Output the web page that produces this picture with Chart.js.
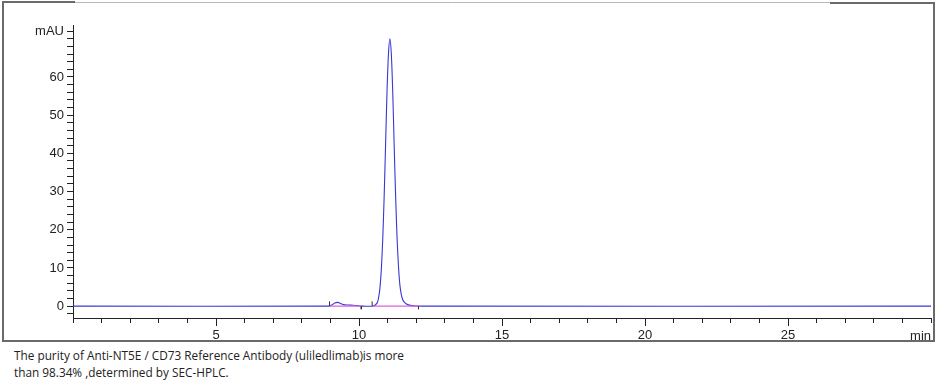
<!DOCTYPE html>
<html><head><meta charset="utf-8">
<script src="https://cdn.jsdelivr.net/npm/chart.js@4"></script>
<style>
html,body{margin:0;padding:0;background:#fff;}
#wrap{position:relative;width:936px;height:390px;overflow:hidden;}
#c{position:absolute;left:0;top:0;}
#cap{position:absolute;left:14px;top:347px;font-family:"Open Sans",sans-serif;font-size:11.8px;line-height:17px;color:#222;white-space:nowrap;}
</style></head><body>
<div id="wrap">
<canvas id="c" width="936" height="345"></canvas>
<div id="cap">The purity of Anti-NT5E / CD73 Reference Antibody (uliledlimab)is more<br>than 98.34% ,determined by SEC-HPLC.</div>
</div>
<script>
// Chromatogram trace (time in min, absorbance in mAU)
const times = [0, 8.95, 9.05, 9.15, 9.25, 9.35, 9.45, 9.6, 9.8, 9.95, 10.05, 10.15, 10.5,
  10.63, 10.68, 10.73, 10.78, 10.83, 10.88, 10.93, 10.98, 11.03, 11.08,
  11.13, 11.18, 11.23, 11.28, 11.33, 11.38, 11.43, 11.48, 11.53, 11.6, 11.7, 11.85, 12.05, 12.3, 30];
const mAU = [0, 0, 0.3, 0.8, 1.0, 0.7, 0.4, 0.3, 0.25, 0.15, 0.05, 0, 0.02,
  0.8, 2.0, 4.6, 9.5, 17.5, 28.8, 42.4, 56.3, 66, 70,
  66, 56, 42, 29, 18, 10.5, 5.5, 3.0, 1.7, 0.9, 0.4, 0.15, 0.05, 0, 0];
// Integration baselines (start/end times)
const baseStart = [8.97, 10.46];
const baseEnd = [10.08, 12.08];
// Tick labels
const xLabels = {5:'5', 10:'10', 15:'15', 20:'20', 25:'25'};
const yLabels = {0:'0', 10:'10', 20:'20', 30:'30', 40:'40', 50:'50', 60:'60', 72:'mAU'};
const xUnit = 'min';

const datasets = [];
datasets.push({
  data: times.map((t,i)=>({x:t,y:mAU[i]})),
  borderColor:'#3838d4', borderWidth:1.1, pointRadius:0, tension:0.25, order:3
});
baseStart.forEach((s,i)=>{
  datasets.push({data:[{x:s,y:0},{x:baseEnd[i],y:0}], borderColor:'#e060e0', borderWidth:1.2, pointRadius:0, order:2});
  datasets.push({data:[{x:s,y:0},{x:s,y:1.25}], borderColor:'#333', borderWidth:1, pointRadius:0, order:1});
  datasets.push({data:[{x:baseEnd[i],y:0},{x:baseEnd[i],y:-0.8}], borderColor:'#333', borderWidth:1, pointRadius:0, order:1});
});

const frame = {
  id:'frame',
  afterDraw(chart){
    const ctx = chart.ctx;
    ctx.save();
    ctx.strokeStyle='#6a6a6a'; ctx.lineWidth=2;
    ctx.beginPath();
    ctx.moveTo(3,2); ctx.lineTo(3,341); ctx.lineTo(934,341); ctx.lineTo(934,2);
    ctx.stroke();
    ctx.lineWidth=1;
    ctx.strokeStyle='#b8b8b8';
    ctx.beginPath(); ctx.moveTo(75,2.5); ctx.lineTo(830,2.5); ctx.stroke();
    ctx.strokeStyle='#6a6a6a'; ctx.lineWidth=2;
    ctx.beginPath(); ctx.moveTo(2,2); ctx.lineTo(75,2); ctx.stroke();
    ctx.beginPath(); ctx.moveTo(830,3); ctx.lineTo(935,3); ctx.stroke();
    // major x tick extension
    const xs = chart.scales.x;
    ctx.strokeStyle='#222'; ctx.lineWidth=1;
    for (const k of Object.keys(xLabels)) {
      const px = Math.round(xs.getPixelForValue(+k))+0.5;
      ctx.beginPath(); ctx.moveTo(px, xs.top+4); ctx.lineTo(px, xs.top+8); ctx.stroke();
    }
    // unit label
    ctx.fillStyle='#222';
    ctx.font='13px "Liberation Sans", Arial, sans-serif';
    ctx.textAlign='right'; ctx.textBaseline='middle';
    ctx.fillText(xUnit, xs.right, 336);
    ctx.restore();
  }
};

new Chart(document.getElementById('c'), {
  type:'line',
  data:{datasets},
  options:{
    responsive:false, animation:false,
    layout:{padding:{left:0,right:1,top:25,bottom:0}},
    plugins:{legend:{display:false}, tooltip:{enabled:false}},
    scales:{
      x:{type:'linear', min:0, max:30,
        afterFit(s){ s.height = 27; },
        border:{display:true,color:'#222',width:1},
        grid:{display:true, drawOnChartArea:false, tickLength:5, color:'#222', tickColor:'#222'},
        ticks:{stepSize:1, autoSkip:false, maxRotation:0, padding:5, color:'#222',
          font:{family:'"Liberation Sans", Arial, sans-serif', size:13},
          callback:(v)=> xLabels[v] || ''}
      },
      y:{type:'linear', min:-3.1, max:73.6,
        afterFit(s){ s.width = 73; },
        afterBuildTicks(s){ const t=[]; for(let v=-2; v<=72; v+=2) t.push({value:v}); s.ticks=t; },
        border:{display:true,color:'#222',width:1},
        grid:{display:true, drawOnChartArea:false, tickLength:6, color:'#222', tickColor:'#222'},
        ticks:{autoSkip:false, padding:3, color:'#222',
          font:{family:'"Liberation Sans", Arial, sans-serif', size:13},
          callback:(v)=> yLabels[v] || ''}
      }
    }
  },
  plugins:[frame]
});
</script>
</body></html>
